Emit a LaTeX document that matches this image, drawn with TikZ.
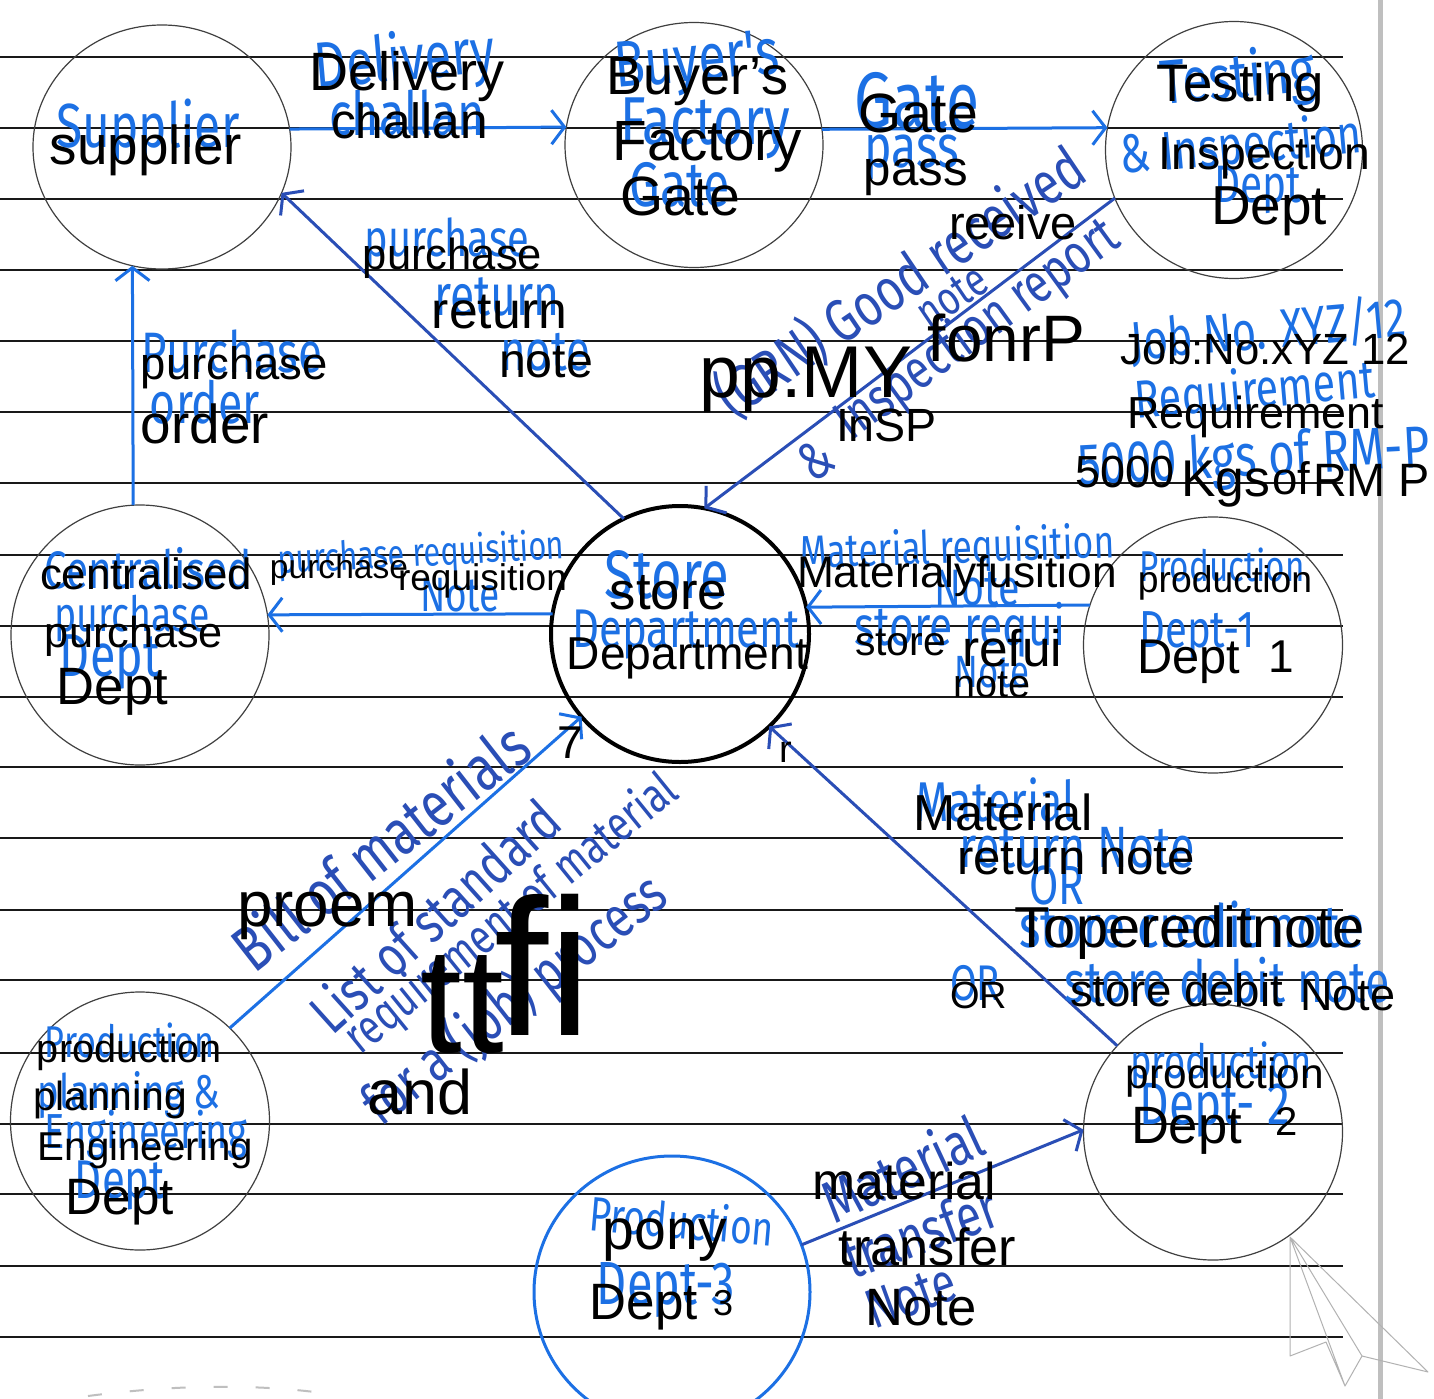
\documentclass[tikz,border=0pt]{standalone}
\usepackage{fontspec}
\setmainfont{Liberation Sans}
\newfontfamily\hand{Fira Sans}
\usepackage{graphicx}
\usetikzlibrary{arrows.meta,shapes.geometric}
\definecolor{hb}{RGB}{28,112,228}
\definecolor{hd}{RGB}{42,78,182}
\newcommand\BT[4]{\node[btxt] (#1) at (#2) {\resizebox{#3pt}{!}{#4}};}
\newcommand\FT[4]{\node[btxt] (#1) at (#2) {\fontsize{#3pt}{#3pt}\selectfont #4};}
\newcommand\HT[5]{\node[htxt,rotate=#4] (#1) at (#2) {\scalebox{1}[1.3]{\resizebox{#3pt}{!}{\hand #5}}};}
\newcommand\HD[5]{\node[htxt,text=hd,rotate=#4] (#1) at (#2) {\scalebox{1}[1.3]{\resizebox{#3pt}{!}{\hand #5}}};}
\begin{document}
\begin{tikzpicture}[x=1pt,y=-1pt,
  btxt/.style={inner sep=0pt,text=black},
  htxt/.style={inner sep=0pt,text=hb},
  bubble/.style={ellipse,draw=black!75,line width=1.2pt,inner sep=0pt,outer sep=0pt},
  rulel/.style={line width=2.6pt,black!90},
  flowb/.style={draw=hb,line width=3pt,-{Straight Barb[length=13pt,width=34pt]}},
  flowd/.style={draw=hd,line width=3pt,-{Straight Barb[length=13pt,width=34pt]}}]
\useasboundingbox (0,0) rectangle (1434,1399);
\fill[white] (0,0) rectangle (1434,1399);
% ruled paper
\foreach \yy in {57,128,199,270,341,412,483,555,626,697,767,838,910,980,1053,1124,1194,1266,1337}
  \draw[rulel] (0,\yy) -- (1343,\yy);
\draw[line width=5pt,black!25] (1380,0) -- (1380,1399);
% paper plane sketch
\draw[black!30,line width=1pt,line join=round]
  (1290,1237) -- (1428,1372) -- (1362,1356) -- (1345,1386) -- (1326,1342) -- (1290,1356) -- cycle
  (1290,1237) -- (1345,1386) (1290,1237) -- (1362,1356);
\draw[black!25,line width=2pt,dash pattern=on 14pt off 28pt] (88,1396) .. controls (180,1384) and (260,1384) .. (330,1394);
% bubbles
\node[bubble,minimum width=258pt,minimum height=244pt] (sup) at (162,147) {};
\node[bubble,minimum width=258pt,minimum height=245pt] (gate) at (694,145) {};
\node[bubble,minimum width=257pt,minimum height=257pt] (test) at (1234,150) {};
\node[bubble,minimum width=258pt,minimum height=260pt] (cent) at (140,635) {};
\node[bubble,draw=black,line width=4pt,minimum width=258pt,minimum height=256pt] (store) at (680,634) {};
\node[bubble,minimum width=259pt,minimum height=256pt] (d1) at (1213,645) {};
\node[bubble,minimum width=259pt,minimum height=258pt] (ppe) at (140,1121) {};
\node[bubble,minimum width=259pt,minimum height=256pt] (d2) at (1213,1132) {};
\node[bubble,draw=hb,line width=3pt,minimum width=276pt,minimum height=272pt] (d3) at (672,1292) {};
% flows
\draw[flowb] (sup.8.5) -- (gate.172.4);
\draw[flowb] (gate.7.6) -- (test.170);
\draw[flowd] (test.202.5) -- (store.79);
\draw[flowd] (store.116) -- (sup.-21);
\draw[flowb] (cent.93.5) -- (sup.256);
\draw[flowb] (store.171.1) -- (cent.9.4);
\draw[flowb] (d1.162.4) -- (store.12.4);
\draw[flowb] (ppe.46.7) -- (store.220.9);
\draw[flowd] (d2.138.5) -- (store.-46);
\draw[flowd] (d3.20.6) -- (d2.179);
% handwritten labels
\HT{h1}{148,130}{183}{0}{Supplier}
\HT{h2}{405,62}{180}{5}{Delivery}
\HT{h3}{407,113}{155}{0}{challan}
\HT{h4}{697,65}{165}{5}{Buyer's}
\HT{h5}{705,128}{170}{0}{Factory}
\HT{h6}{680,185}{100}{0}{Gate}
\HT{h7}{917,100}{125}{0}{Gate}
\HT{h8}{912,158}{95}{0}{pass}
\HT{h9}{1238,80}{155}{5}{Testing}
\HT{h10}{1241,148}{242}{5}{\& Inspection}
\HT{h11}{1258,190}{87}{0}{Dept}
\HT{h12}{447,243}{165}{0}{purchase}
\HT{h13}{497,297}{125}{0}{return}
\HT{h14}{545,352}{90}{0}{note}
\HT{h15}{232,352}{180}{0}{Purchase}
\HT{h16}{205,402}{110}{0}{order}
\HD{h17}{900,282}{430}{34}{(GRN) Good received}
\HD{h18}{952,297}{75}{34}{note}
\HD{h19}{816,460}{30}{34}{\&}
\HD{h20}{978,330}{335}{36}{Inspection report}
\HT{h21}{1268,330}{275}{5}{Job No. XYZ/12}
\HT{h22}{1255,393}{240}{5}{Requirement}
\HT{h23}{1254,460}{352}{3}{5000 kgs of RM-P}
\HT{h24}{148,568}{207}{0}{Centralised}
\HT{h25}{132,618}{155}{0}{purchase}
\HT{h26}{110,662}{100}{0}{Dept}
\HT{h27}{421,555}{287}{3}{purchase requisition}
\HT{h28}{460,595}{80}{0}{Note}
\HT{h29}{667,575}{125}{0}{Store}
\HT{h30}{686,635}{227}{0}{Department}
\HT{h31}{957,550}{315}{2}{Material requisition}
\HT{h32}{977,588}{85}{0}{Note}
\HT{h33}{1222,565}{165}{0}{Production}
\HT{h34}{1197,635}{115}{0}{Dept-1}
\HT{h35}{960,630}{210}{0}{store requi}
\HT{h36}{992,672}{75}{0}{Note}
\HT{h37}{995,800}{160}{0}{Material}
\HT{h38}{1077,848}{235}{0}{return Note}
\HT{h39}{1057,885}{55}{0}{OR}
\HT{h40}{1192,925}{345}{0}{store credit note}
\HT{h41}{975,983}{50}{0}{OR}
\HT{h42}{1227,980}{325}{0}{store debit note}
\HT{h43}{130,1040}{170}{0}{Production}
\HT{h44}{129,1095}{182}{0}{planning \&}
\HT{h45}{146,1135}{203}{0}{Engineering}
\HT{h46}{120,1185}{90}{0}{Dept}
\HT{h47}{1221,1065}{182}{0}{production}
\HT{h48}{1215,1110}{150}{0}{Dept- 2}
\HT{h49}{682,1220}{185}{-5}{Production}
\HT{h50}{666,1290}{138}{0}{Dept-3}
\HD{h51}{902,1168}{170}{25}{Material}
\HD{h52}{920,1232}{160}{20}{transfer}
\HD{h53}{911,1296}{92}{20}{Note}
\HD{h54}{380,845}{356}{38}{Bill of materials}
\HD{h55}{434,915}{313}{42}{List of standard}
\HD{h56}{512,915}{412}{39}{requirement of material}
\HD{h57}{515,1000}{367}{38}{for a (job) process}
% printed (black) text
\BT{b1}{407.5,77}{195}{Delivery}
\BT{b2}{409.5,121}{157}{challan}
\BT{b3}{146,150}{192}{supplier}
\BT{b4}{697.5,82}{181}{Buyer's}
\BT{b5}{707.5,147}{189}{Factory}
\BT{b6}{680,196}{120}{Gate}
\BT{b7}{918,113}{120}{Gate}
\BT{b8}{916,177}{104}{pass}
\BT{b9}{1013,223}{128}{reeive}
\BT{b10}{1240.5,88}{167}{Testing}
\BT{b11}{1264.5,158}{211}{Inspection}
\BT{b12}{1269,211}{116}{Dept}
\BT{b13}{452.5,258}{179}{purchase}
\BT{b14}{499.5,312}{135}{return}
\BT{b15}{546,362}{94}{note}
\BT{b16}{234.5,368}{187}{purchase}
\BT{b17}{205,424}{128}{order}
\BT{b18}{806,380}{212}{pp.MY}
\BT{b19}{1006.5,338}{157}{fonrP}
\BT{b20}{886.5,425}{101}{InSP}
\BT{b21}{1265.5,349}{289}{Job:No.xYZ 12}
\BT{b22}{1255.5,417}{257}{Requirement}
\BT{b23}{1125,472}{100}{5000}
\BT{b24}{1225.5,484}{89}{Kgs}
\BT{b25}{1291,478}{38}{of}
\BT{b26}{1371.5,480}{117}{RM P}
\BT{b27}{146,574}{212}{centralised}
\BT{b28}{134,636}{178}{purchase}
\BT{b29}{112.5,692}{111}{Dept}
\BT{b30}{339,570}{138}{purchase}
\BT{b31}{482.5,581}{169}{requisition}
\BT{b32}{668.5,593}{117}{store}
\BT{b33}{687.5,658}{241}{Department}
\BT{b34}{957,576}{320}{Materialyfusition}
\BT{b35}{1225,583}{174}{production}
\BT{b36}{900.5,642}{91}{store}
\BT{b37}{1012,648}{100}{refui}
\BT{b38}{991.5,685}{77}{note}
\BT{b39}{1188.5,662}{103}{Dept}
\FT{b40}{1281,657}{46}{1}
\FT{b41}{570,743}{46}{7}
\FT{b42}{786,752}{38}{r}
\BT{b43}{1003,812}{180}{Material}
\BT{b44}{1076,859}{238}{return note}
\BT{b45}{327.5,916}{181}{proem}
\FT{b46}{462,1005}{150}{tt}
\FT{b47}{543,965}{195}{fi}
\BT{b48}{420.5,1092}{105}{and}
\BT{b49}{1190,933}{350}{Topereditnote}
\BT{b50}{978.5,995}{57}{OR}
\BT{b51}{1176.5,990}{213}{store debit}
\BT{b52}{1347.5,995}{95}{Note}
\BT{b53}{129.5,1052}{185}{production}
\BT{b54}{110,1100}{154}{planning}
\BT{b55}{145.5,1150}{215}{Engineering}
\BT{b56}{120,1202}{108}{Dept}
\BT{b57}{1225,1078}{198}{production}
\BT{b58}{1186.5,1131}{111}{Dept}
\FT{b59}{1287,1122}{40}{2}
\BT{b60}{665,1240}{124}{pony}
\BT{b61}{644,1307}{108}{Dept}
\FT{b62}{723,1303}{36}{3}
\BT{b63}{904,1181}{184}{material}
\BT{b64}{927.5,1247}{177}{transfer}
\BT{b65}{921.5,1308}{111}{Note}
\end{tikzpicture}
\end{document}
